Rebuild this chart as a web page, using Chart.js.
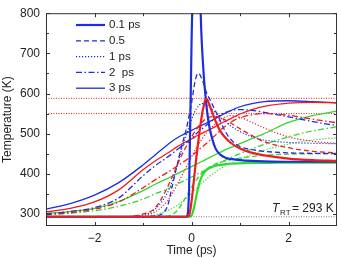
<!DOCTYPE html>
<html>
<head>
<meta charset="utf-8">
<script src="https://cdn.jsdelivr.net/npm/chart.js@4.4.0/dist/chart.umd.min.js"></script>
<style>
  html, body { margin: 0; padding: 0; background: #fff; }
</style>
</head>
<body>
<canvas id="myChart" width="342" height="258"></canvas>
<script>
// time axis (ps), shared by every curve
const tiempos = [-3, -2.5, -2, -1.5, -1, -0.75, -0.5, -0.4, -0.3, -0.2, -0.1, -0.05, 0, 0.05, 0.1, 0.15, 0.2, 0.25, 0.3, 0.35, 0.4, 0.5, 0.6, 0.7, 0.8, 1, 1.25, 1.5, 2, 2.5, 3];

// temperatures (K), one array per pulse length
const azul01 = [293, 293, 293, 293, 293, 293, 293, 293, 293, 293, 293, 360, 720, 1000, 1100, 950, 760, 650, 580, 530, 500, 462, 447, 440, 437, 434, 432, 431, 430, 430, 430];
const azul05 = [293, 293, 293, 293, 293, 295, 318, 368, 420, 470, 515, 545, 575, 615, 643, 650, 640, 625, 605, 592, 580, 555, 530, 505, 487, 468, 460, 456, 452, 451, 450];
const azul1 = [293, 293, 293, 293, 297, 312, 352, 380, 420, 462, 500, 518, 535, 550, 562, 570, 574, 575, 573, 569, 564, 552, 540, 530, 520, 505, 492, 484, 478, 476, 475];
const azul2 = [300, 306, 316, 340, 395, 420, 441, 450, 460, 469, 478, 483, 488, 494, 500, 505, 510, 515, 520, 525, 530, 539, 547, 553, 557, 560, 558, 553, 542, 530, 520];
const azul3 = [312, 326, 347, 378, 422, 447, 472, 481, 489, 496, 502, 505, 508, 511, 514, 517, 520, 523, 526, 529, 532, 538, 545, 551, 557, 567, 575, 580, 582, 580, 577];

const rojo01 = [293, 293, 293, 293, 293, 293, 293, 293, 293, 293, 293, 296, 330, 385, 440, 490, 535, 568, 588, 578, 562, 530, 505, 490, 478, 463, 452, 446, 438, 434, 432];
const rojo05 = [293, 293, 293, 293, 300, 315, 365, 392, 420, 447, 470, 481, 492, 502, 511, 519, 526, 532, 537, 540, 542, 543, 540, 534, 527, 512, 495, 480, 465, 456, 452];
const rojo1 = [293, 293, 293, 293, 297, 305, 332, 350, 372, 395, 418, 430, 442, 454, 465, 475, 484, 493, 501, 508, 514, 525, 535, 542, 545, 541, 528, 514, 492, 481, 476];
const rojo2 = [298, 303, 312, 330, 365, 385, 403, 411, 419, 427, 435, 440, 445, 450, 455, 460, 465, 470, 475, 480, 486, 497, 509, 519, 528, 540, 547, 550, 546, 536, 527];
const rojo3 = [305, 314, 330, 360, 410, 432, 451, 459, 467, 474, 481, 484, 487, 490, 494, 497, 500, 503, 506, 509, 512, 518, 525, 531, 537, 549, 560, 568, 576, 578, 577];

const verde01 = [293, 293, 293, 293, 293, 293, 293, 293, 293, 293, 293, 293, 296, 315, 345, 372, 390, 401, 408, 413, 416, 420, 422, 424, 425, 426, 427, 427, 428, 428, 428];
const verde05 = [293, 293, 293, 293, 293, 293, 294, 298, 308, 325, 345, 356, 366, 376, 385, 393, 400, 406, 411, 415, 419, 425, 429, 432, 435, 439, 443, 446, 449, 450, 451];
const verde1 = [293, 293, 293, 293, 294, 298, 308, 314, 321, 330, 340, 345, 351, 357, 363, 369, 375, 380, 386, 391, 396, 405, 413, 420, 426, 437, 449, 459, 474, 484, 490];
const verde2 = [299, 302, 308, 319, 337, 350, 362, 368, 374, 380, 386, 389, 392, 395, 398, 401, 404, 407, 410, 413, 416, 422, 428, 434, 440, 450, 462, 473, 492, 507, 517];
const verde3 = [301, 306, 314, 331, 358, 374, 388, 394, 400, 406, 412, 415, 418, 421, 424, 427, 430, 433, 436, 439, 442, 448, 454, 460, 465, 475, 488, 500, 528, 545, 556];

// horizontal reference levels (K)
const nivelesRojos = [588, 550];
const tempAmbiente = 293;

// axis ticks
const ticksY = [300, 350, 400, 450, 500, 550, 600, 650, 700, 750, 800];
const ticksX = [-3, -2, -1, 0, 1, 2, 3];

const etiquetasLeyenda = ["0.1 ps", "0.5", "1 ps", "2  ps", "3 ps"];

const AZUL = "#1b2fe0";
const ROJO = "#ee1c1c";
const VERDE = "#2fd82f";

// line style per pulse length: [width, dash]
const estilos = [
  [2.2, []],
  [1.3, [5, 3]],
  [1.2, [1.2, 1.8]],
  [1.3, [6, 2.5, 1.5, 2.5]],
  [1.3, []],
];

const puntos = (arr) => tiempos.map((t, i) => ({ x: t, y: arr[i] }));

const serie = (arr, color, k, orden) => ({
  data: puntos(arr),
  borderColor: color,
  borderWidth: estilos[k][0],
  borderDash: estilos[k][1],
  order: orden,
});

const lineaH = (valor, color, dash) => ({
  data: [{ x: -3, y: valor }, { x: 3, y: valor }],
  borderColor: color,
  borderWidth: 1,
  borderDash: dash,
  order: 10,
});

const marco = {
  id: "marco",
  afterDatasetsDraw(chart) {
    const { ctx, chartArea: a, scales } = chart;
    const x = scales.x;
    const y = scales.y;
    ctx.save();
    ctx.strokeStyle = "#333";
    ctx.lineWidth = 1;
    ctx.setLineDash([]);
    ctx.strokeRect(a.left + 0.5, a.top + 0.5, a.right - a.left - 1, a.bottom - a.top - 1);
    ctx.beginPath();
    for (let v = -2; v <= 2; v += 1) {
      const px = Math.round(x.getPixelForValue(v)) + 0.5;
      const len = v % 2 === 0 ? 4 : 3;
      ctx.moveTo(px, a.bottom); ctx.lineTo(px, a.bottom - len);
      ctx.moveTo(px, a.top); ctx.lineTo(px, a.top + len);
    }
    ticksY.forEach((v) => {
      const py = Math.round(y.getPixelForValue(v)) + 0.5;
      const len = v % 100 === 0 ? 4 : 3;
      ctx.moveTo(a.left, py); ctx.lineTo(a.left + len, py);
      ctx.moveTo(a.right, py); ctx.lineTo(a.right - len, py);
    });
    ctx.stroke();

    // legend (blue samples, as in the original)
    ctx.fillStyle = "#222";
    ctx.font = "11.5px 'Liberation Sans', Arial, sans-serif";
    ctx.textBaseline = "middle";
    etiquetasLeyenda.forEach((txt, k) => {
      const ly = 25 + k * 15.8;
      ctx.beginPath();
      ctx.strokeStyle = AZUL;
      ctx.lineWidth = estilos[k][0];
      ctx.setLineDash(estilos[k][1]);
      ctx.moveTo(76, ly);
      ctx.lineTo(105, ly);
      ctx.stroke();
      ctx.fillText(txt, 109, ly);
    });
    ctx.setLineDash([]);

    // T_RT = 293 K
    ctx.textBaseline = "alphabetic";
    ctx.font = "italic 12px 'Liberation Sans', Arial, sans-serif";
    ctx.fillText("T", 272, 212);
    ctx.font = "8px 'Liberation Sans', Arial, sans-serif";
    ctx.fillText("RT", 280, 215);
    ctx.font = "12px 'Liberation Sans', Arial, sans-serif";
    ctx.fillText("= 293 K", 292, 212);
    ctx.restore();
  },
};

const fuente = { family: "'Liberation Sans', Arial, sans-serif", size: 12 };

const pintarGrafica = () => {
  new Chart(document.getElementById("myChart"), {
    type: "line",
    data: {
      datasets: [
        serie(rojo01, ROJO, 0, 1),
        serie(azul01, AZUL, 0, 2),
        serie(verde01, VERDE, 0, 3),
        serie(rojo05, ROJO, 1, 4),
        serie(azul05, AZUL, 1, 4),
        serie(verde05, VERDE, 1, 5),
        serie(rojo1, ROJO, 2, 6),
        serie(azul1, AZUL, 2, 6),
        serie(verde1, VERDE, 2, 6),
        serie(rojo2, ROJO, 3, 7),
        serie(azul2, AZUL, 3, 7),
        serie(verde2, VERDE, 3, 7),
        serie(rojo3, ROJO, 4, 8),
        serie(azul3, AZUL, 4, 8),
        serie(verde3, VERDE, 4, 8),
        lineaH(nivelesRojos[0], ROJO, [1, 1.5]),
        lineaH(nivelesRojos[1], ROJO, [1, 1.5]),
        lineaH(tempAmbiente, "#777", [1, 1.5]),
      ],
    },
    options: {
      responsive: false,
      animation: false,
      devicePixelRatio: 1,
      elements: {
        point: { radius: 0 },
        line: { cubicInterpolationMode: "monotone", fill: false },
      },
      layout: { padding: { top: 13, right: 4, left: 0, bottom: 0 } },
      plugins: { legend: { display: false }, tooltip: { enabled: false } },
      scales: {
        x: {
          type: "linear",
          min: -3,
          max: 3,
          grid: { display: false, drawTicks: false },
          border: { display: false },
          afterBuildTicks: (s) => { s.ticks = ticksX.map((v) => ({ value: v })); },
          ticks: {
            padding: 5,
            color: "#222",
            font: fuente,
            maxRotation: 0,
            autoSkip: false,
            callback: (v) => (v % 2 === 0 ? (v < 0 ? "\u2212" + Math.abs(v) : String(v)) : ""),
          },
          title: { display: true, text: "Time (ps)", color: "#222", font: fuente, padding: { top: 0, bottom: 0 } },
          afterFit: (s) => { s.height = 32; },
        },
        y: {
          min: 270,
          max: 800,
          grid: { display: false, drawTicks: false },
          border: { display: false },
          afterBuildTicks: (s) => { s.ticks = ticksY.map((v) => ({ value: v })); },
          ticks: {
            padding: 6,
            color: "#222",
            font: fuente,
            autoSkip: false,
            callback: (v) => (v % 100 === 0 ? String(v) : ""),
          },
          title: { display: true, text: "Temperature (K)", color: "#222", font: fuente, padding: { top: 0, bottom: 0 } },
          afterFit: (s) => { s.width = 46; },
        },
      },
    },
    plugins: [marco],
  });
};

window.addEventListener("load", pintarGrafica);
</script>
</body>
</html>
